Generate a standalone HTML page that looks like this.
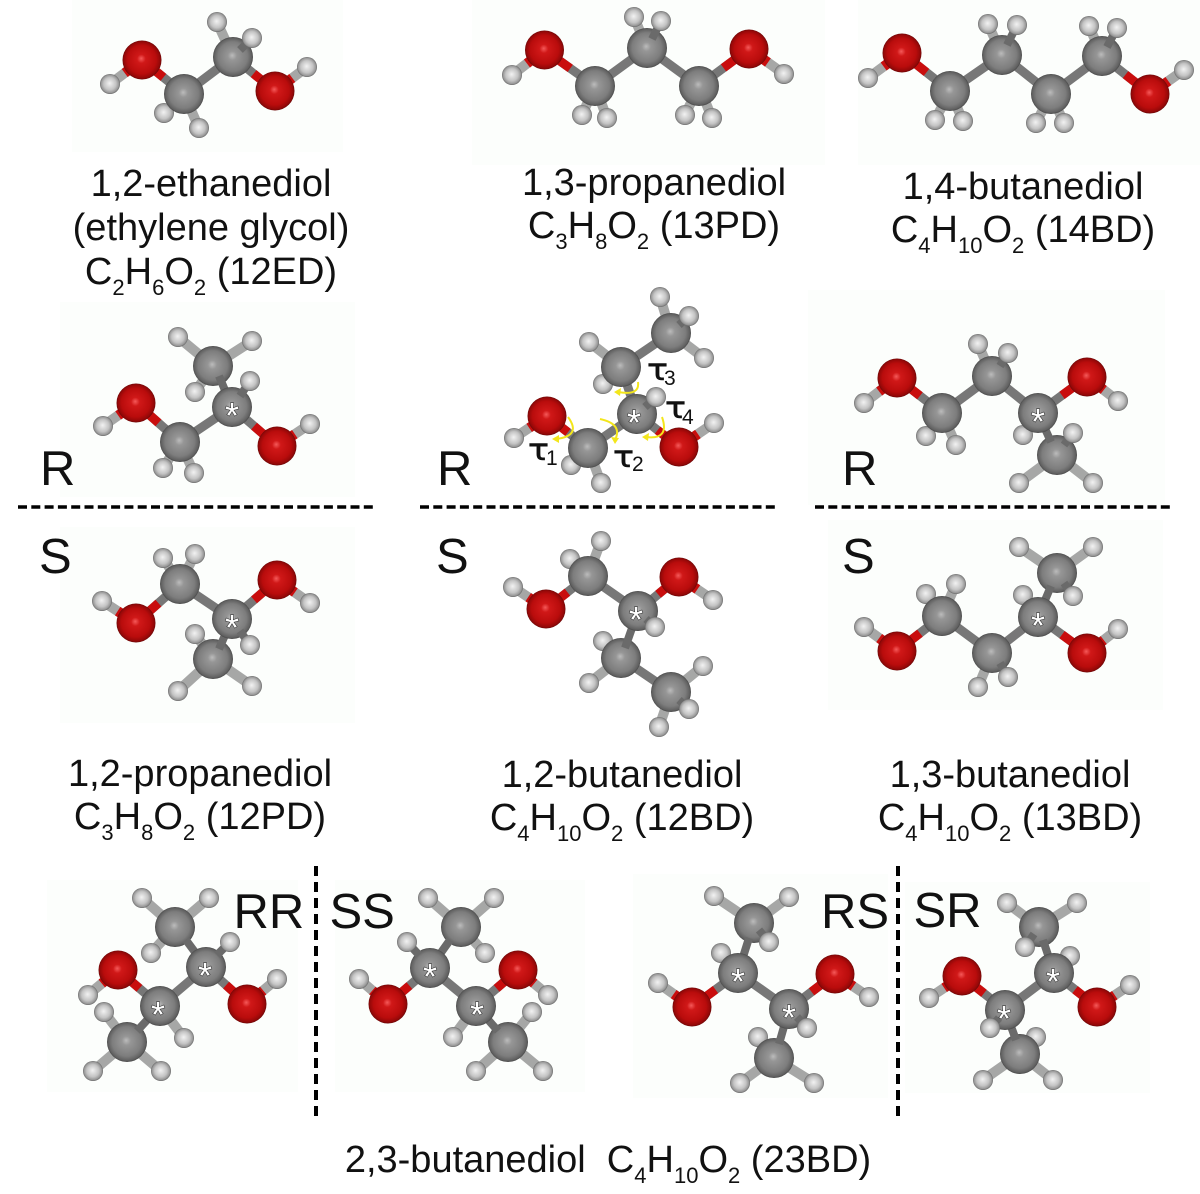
<!DOCTYPE html>
<html><head><meta charset="utf-8"><title>Diols</title>
<style>
html,body{margin:0;padding:0;background:#fff}
svg{display:block}
text{font-family:"Liberation Sans",sans-serif;fill:#111}
.t{font-size:38px;text-anchor:middle}
.l{font-size:49px}
.sb{font-size:22px}
.ch,.cc,.f,.r,.s{fill:none}
.ch{stroke:#a6a7a6;stroke-width:10}
.cc{stroke:#777;stroke-width:9}
.f{stroke:#6a6a6a;stroke-width:8}
.r{stroke:#c90d0d;stroke-width:9;stroke-dasharray:1.02 1}
.s{stroke:#c90d0d;stroke-width:10;stroke-dasharray:1.08 1}
.a{font-size:36px;text-anchor:middle;fill:#fff;stroke:#333;stroke-width:1.2;paint-order:stroke;transform:translateY(4px)}
.y{fill:none;stroke:#f3e61c;stroke-width:2}
.tau{font-family:"DejaVu Sans",sans-serif;font-size:30px;stroke:#111;stroke-width:.5}
.dg{font-size:21px}
.p{fill:#fcfefc}
</style></head><body>
<svg width="1200" height="1194" viewBox="0 0 1200 1194" xmlns="http://www.w3.org/2000/svg">
<defs>
<radialGradient id="gc" cx="50%" cy="50%" r="51%" fx="48%" fy="46%"><stop offset="0" stop-color="#bcbcbc"/><stop offset=".22" stop-color="#969696"/><stop offset=".72" stop-color="#7d7d7d"/><stop offset=".92" stop-color="#606060"/><stop offset="1" stop-color="#404040"/></radialGradient>
<radialGradient id="go" cx="50%" cy="50%" r="51%" fx="48%" fy="46%"><stop offset="0" stop-color="#f55a5a"/><stop offset=".22" stop-color="#d01818"/><stop offset=".72" stop-color="#b90c0c"/><stop offset=".92" stop-color="#920808"/><stop offset="1" stop-color="#5a0606"/></radialGradient>
<radialGradient id="gh" cx="50%" cy="50%" r="51%" fx="48%" fy="46%"><stop offset="0" stop-color="#f2f2f2"/><stop offset=".6" stop-color="#c4c4c4"/><stop offset=".88" stop-color="#969696"/><stop offset="1" stop-color="#5c5c5c"/></radialGradient>
<circle id="C" r="20" fill="url(#gc)"/>
<circle id="O" r="19.500" fill="url(#go)"/>
<circle id="H" r="10" fill="url(#gh)"/>
</defs>

<!-- faint panels -->
<rect class="p" x="72" y="0" width="271" height="152"/>
<rect class="p" x="472" y="0" width="353" height="165"/>
<rect class="p" x="858" y="0" width="342" height="165"/>
<rect class="p" x="60" y="302" width="295" height="195"/>
<rect class="p" x="60" y="527" width="295" height="196"/>
<rect class="p" x="808" y="290" width="357" height="215"/>
<rect class="p" x="828" y="520" width="335" height="190"/>
<rect class="p" x="47" y="880" width="251" height="212"/>
<rect class="p" x="335" y="880" width="250" height="212"/>
<rect class="p" x="633" y="874" width="255" height="224"/>
<rect class="p" x="905" y="882" width="245" height="211"/>

<!-- 12ED -->
<path class="ch" d="M184 94L164 113M184 94L199 128M233 57L217 22M142 60L110 84M275 91L307 67"/>
<path class="cc" d="M184 94L233 57M184 94L142 60M233 57L275 91"/>
<path class="r" pathLength="2" d="M142 60L184 94"/><path class="r" pathLength="2" d="M275 91L233 57"/>
<path class="s" pathLength="2" d="M142 60L110 84"/><path class="s" pathLength="2" d="M275 91L307 67"/>
<use href="#H" x="110" y="84"/><use href="#H" x="164" y="113"/><use href="#H" x="199" y="128"/><use href="#H" x="217" y="22"/><use href="#H" x="307" y="67"/>
<use href="#O" x="142" y="60"/><use href="#O" x="275" y="91"/><use href="#C" x="184" y="94"/><use href="#C" x="233" y="57"/>
<path class="f" d="M240 50L252 38"/><use href="#H" x="252" y="38"/>

<!-- 13PD -->
<path class="ch" d="M595 86L582 115M595 86L607 118M647 48L634 17M699 86L685 115M699 86L712 118M544.500 50L512 75M749 49L784 74"/>
<path class="cc" d="M595 86L647 48L699 86M544.500 50L595 86M749 49L699 86"/>
<path class="r" pathLength="2" d="M544.500 50L595 86"/><path class="r" pathLength="2" d="M749 49L699 86"/>
<path class="s" pathLength="2" d="M544.500 50L512 75"/><path class="s" pathLength="2" d="M749 49L784 74"/>
<use href="#H" x="512" y="75"/><use href="#H" x="582" y="115"/><use href="#H" x="607" y="118"/><use href="#H" x="634" y="17"/><use href="#H" x="685" y="115"/><use href="#H" x="712" y="118"/><use href="#H" x="784" y="74"/>
<use href="#O" x="544.500" y="50"/><use href="#O" x="749" y="49"/><use href="#C" x="595" y="86"/><use href="#C" x="647" y="48"/><use href="#C" x="699" y="86"/>
<path class="f" d="M652 39L661 21"/><use href="#H" x="661" y="21"/>

<!-- 14BD -->
<path class="ch" d="M950 91L935 120M950 91L963 121M1002 55L988 24M1051 94L1036 123M1051 94L1064 123M1102 56L1089 26M902 53L868 78M1150 94L1184 70"/>
<path class="cc" d="M950 91L1002 55L1051 94L1102 56M902 53L950 91M1150 94L1102 56"/>
<path class="r" pathLength="2" d="M902 53L950 91"/><path class="r" pathLength="2" d="M1150 94L1102 56"/>
<path class="s" pathLength="2" d="M902 53L868 78"/><path class="s" pathLength="2" d="M1150 94L1184 70"/>
<use href="#H" x="868" y="78"/><use href="#H" x="935" y="120"/><use href="#H" x="963" y="121"/><use href="#H" x="988" y="24"/><use href="#H" x="1036" y="123"/><use href="#H" x="1064" y="123"/><use href="#H" x="1089" y="26"/><use href="#H" x="1184" y="70"/>
<use href="#O" x="902" y="53"/><use href="#O" x="1150" y="94"/><use href="#C" x="950" y="91"/><use href="#C" x="1002" y="55"/><use href="#C" x="1051" y="94"/><use href="#C" x="1102" y="56"/>
<path class="f" d="M1007 45L1017 25M1107 47L1117 28"/><use href="#H" x="1017" y="25"/><use href="#H" x="1117" y="28"/>

<!-- 12PD R -->
<path class="ch" d="M180 442L163 468M180 442L194 473M213 366L178 337M213 366L252 341M213 366L195 392M136 403L103 426M277 446L310 424"/>
<path class="cc" d="M180 442L232 407M136 403L180 442M277 446L232 407"/>
<path class="r" pathLength="2" d="M136 403L180 442"/><path class="r" pathLength="2" d="M277 446L232 407"/>
<path class="s" pathLength="2" d="M136 403L103 426"/><path class="s" pathLength="2" d="M277 446L310 424"/>
<use href="#H" x="103" y="426"/><use href="#H" x="163" y="468"/><use href="#H" x="194" y="473"/><use href="#H" x="178" y="337"/><use href="#H" x="252" y="341"/><use href="#H" x="195" y="392"/><use href="#H" x="310" y="424"/>
<use href="#O" x="136" y="403"/><use href="#O" x="277" y="446"/><use href="#C" x="180" y="442"/><use href="#C" x="213" y="366"/>
<path class="f" d="M219 376L232 407"/><use href="#C" x="232" y="407"/>
<path class="f" d="M240 396L250 381"/><use href="#H" x="250" y="381"/>
<text class="a" x="232" y="424">*</text>

<!-- 12PD S -->
<path class="ch" d="M180 584L163 558M180 584L195 554M213 659L195 634M213 659L178 691M213 659L252 686M136 623L102 601M277 580L310 603"/>
<path class="cc" d="M180 584L232 619M136 623L180 584M277 580L232 619"/>
<path class="r" pathLength="2" d="M136 623L180 584"/><path class="r" pathLength="2" d="M277 580L232 619"/>
<path class="s" pathLength="2" d="M136 623L102 601"/><path class="s" pathLength="2" d="M277 580L310 603"/>
<use href="#H" x="102" y="601"/><use href="#H" x="163" y="558"/><use href="#H" x="195" y="554"/><use href="#H" x="195" y="634"/><use href="#H" x="178" y="691"/><use href="#H" x="252" y="686"/><use href="#H" x="310" y="603"/>
<use href="#O" x="136" y="623"/><use href="#O" x="277" y="580"/><use href="#C" x="180" y="584"/><use href="#C" x="213" y="659"/>
<path class="f" d="M219 649L232 619"/><use href="#C" x="232" y="619"/>
<path class="f" d="M240 631L250 645"/><use href="#H" x="250" y="645"/>
<text class="a" x="232" y="636">*</text>

<!-- 12BD R -->
<path class="ch" d="M588 448L571 465M588 448L601 483M621 367L589 342M621 367L603 384M671 333L660 297M671 333L704 358M547 416L514 438M679 447L714 423"/>
<path class="cc" d="M588 448L637 414L621 367L671 333M547 416L588 448M679 447L637 414"/>
<path class="r" pathLength="2" d="M547 416L588 448"/><path class="r" pathLength="2" d="M679 447L637 414"/>
<path class="s" pathLength="2" d="M547 416L514 438"/><path class="s" pathLength="2" d="M679 447L714 423"/>
<use href="#H" x="514" y="438"/><use href="#H" x="571" y="465"/><use href="#H" x="601" y="483"/><use href="#H" x="589" y="342"/><use href="#H" x="603" y="384"/><use href="#H" x="660" y="297"/><use href="#H" x="704" y="358"/><use href="#H" x="714" y="423"/>
<use href="#O" x="547" y="416"/><use href="#O" x="679" y="447"/><use href="#C" x="588" y="448"/><use href="#C" x="621" y="367"/><use href="#C" x="637" y="414"/><use href="#C" x="671" y="333"/>
<path class="f" d="M645 407L656 397M679 325L689 316"/><use href="#H" x="656" y="397"/><use href="#H" x="689" y="316"/>
<text class="a" x="634" y="431">*</text>
<!-- torsion arrows -->
<path class="y" d="M568 417Q582 436 556 439"/><path d="M552 439L559 435L559 443Z" fill="#f3e61c"/>
<path class="y" d="M600 419Q623 424 615 440"/><path d="M615 444L611 437L619 438Z" fill="#f3e61c"/>
<path class="y" d="M638 382Q640 396 618 392"/><path d="M614 392L621 388L620 396Z" fill="#f3e61c"/>
<path class="y" d="M662 417Q670 440 646 437"/><path d="M642 437L649 433L648 441Z" fill="#f3e61c"/>
<text class="tau" x="528" y="460" textLength="21" lengthAdjust="spacingAndGlyphs">τ</text><text class="dg" x="546" y="465">1</text>
<text class="tau" x="613" y="467" textLength="21" lengthAdjust="spacingAndGlyphs">τ</text><text class="dg" x="632" y="471">2</text>
<text class="tau" x="647" y="380" textLength="21" lengthAdjust="spacingAndGlyphs">τ</text><text class="dg" x="664" y="385">3</text>
<text class="tau" x="665" y="418" textLength="21" lengthAdjust="spacingAndGlyphs">τ</text><text class="dg" x="682" y="424">4</text>

<!-- 12BD S -->
<path class="ch" d="M588 576L570 559M588 576L601 541M621 658L603 641M621 658L589 683M671 692L703 666M671 692L659 727M546 609L513 587M679 577L713 600"/>
<path class="cc" d="M588 576L638 611M621 658L671 692M546 609L588 576M679 577L638 611"/>
<path class="r" pathLength="2" d="M546 609L588 576"/><path class="r" pathLength="2" d="M679 577L638 611"/>
<path class="s" pathLength="2" d="M546 609L513 587"/><path class="s" pathLength="2" d="M679 577L713 600"/>
<use href="#H" x="513" y="587"/><use href="#H" x="570" y="559"/><use href="#H" x="601" y="541"/><use href="#H" x="603" y="641"/><use href="#H" x="589" y="683"/><use href="#H" x="703" y="666"/><use href="#H" x="659" y="727"/><use href="#H" x="713" y="600"/>
<use href="#O" x="546" y="609"/><use href="#O" x="679" y="577"/><use href="#C" x="588" y="576"/><use href="#C" x="621" y="658"/><use href="#C" x="671" y="692"/>
<path class="f" d="M625 648L638 611"/><use href="#C" x="638" y="611"/>
<path class="f" d="M646 619L655 627M679 700L689 709"/><use href="#H" x="655" y="627"/><use href="#H" x="689" y="709"/>
<text class="a" x="636" y="628">*</text>

<!-- 13BD R -->
<path class="ch" d="M942 413L926 436M942 413L956 445M992 376L978 344M1038 413L1023 435M1057 455L1019 483M1057 455L1093 483M897 378L864 403M1087 377L1118 401"/>
<path class="cc" d="M942 413L992 376L1038 413M897 378L942 413M1087 377L1038 413"/>
<path class="r" pathLength="2" d="M897 378L942 413"/><path class="r" pathLength="2" d="M1087 377L1038 413"/>
<path class="s" pathLength="2" d="M897 378L864 403"/><path class="s" pathLength="2" d="M1087 377L1118 401"/>
<use href="#H" x="864" y="403"/><use href="#H" x="926" y="436"/><use href="#H" x="956" y="445"/><use href="#H" x="978" y="344"/><use href="#H" x="1023" y="435"/><use href="#H" x="1019" y="483"/><use href="#H" x="1093" y="483"/><use href="#H" x="1118" y="401"/>
<use href="#O" x="897" y="378"/><use href="#O" x="1087" y="377"/><use href="#C" x="942" y="413"/><use href="#C" x="992" y="376"/><use href="#C" x="1057" y="455"/>
<path class="f" d="M1051 442L1038 413"/><use href="#C" x="1038" y="413"/>
<path class="f" d="M1000 366L1008 353M1064 445L1073 433"/><use href="#H" x="1008" y="353"/><use href="#H" x="1073" y="433"/>
<text class="a" x="1038" y="430">*</text>

<!-- 13BD S -->
<path class="ch" d="M942 616L926 594M942 616L956 584M992 653L978 687M1038 617L1023 595M1057 573L1019 547M1057 573L1093 547M897 651L864 627M1087 653L1118 629"/>
<path class="cc" d="M942 616L992 653L1038 617M897 651L942 616M1087 653L1038 617"/>
<path class="r" pathLength="2" d="M897 651L942 616"/><path class="r" pathLength="2" d="M1087 653L1038 617"/>
<path class="s" pathLength="2" d="M897 651L864 627"/><path class="s" pathLength="2" d="M1087 653L1118 629"/>
<use href="#H" x="864" y="627"/><use href="#H" x="926" y="594"/><use href="#H" x="956" y="584"/><use href="#H" x="978" y="687"/><use href="#H" x="1023" y="595"/><use href="#H" x="1019" y="547"/><use href="#H" x="1093" y="547"/><use href="#H" x="1118" y="629"/>
<use href="#O" x="897" y="651"/><use href="#O" x="1087" y="653"/><use href="#C" x="942" y="616"/><use href="#C" x="992" y="653"/><use href="#C" x="1057" y="573"/>
<path class="f" d="M1051 586L1038 617"/><use href="#C" x="1038" y="617"/>
<path class="f" d="M1000 663L1008 677M1064 583L1073 596"/><use href="#H" x="1008" y="677"/><use href="#H" x="1073" y="596"/>
<text class="a" x="1038" y="634">*</text>

<!-- RR -->
<path class="ch" d="M160 1006L184 1038M127 1042L104 1012M127 1042L93 1071M127 1042L161 1071M175 927L142 898M175 927L209 898M175 927L151 953M118 970L88 995M247 1004L277 979"/>
<path class="cc" d="M160 1006L206 967M118 970L160 1006M247 1004L206 967"/>
<path class="r" pathLength="2" d="M118 970L160 1006"/><path class="r" pathLength="2" d="M247 1004L206 967"/>
<path class="s" pathLength="2" d="M118 970L88 995"/><path class="s" pathLength="2" d="M247 1004L277 979"/>
<use href="#H" x="88" y="995"/><use href="#H" x="184" y="1038"/><use href="#H" x="104" y="1012"/><use href="#H" x="93" y="1071"/><use href="#H" x="161" y="1071"/><use href="#H" x="142" y="898"/><use href="#H" x="209" y="898"/><use href="#H" x="151" y="953"/><use href="#H" x="277" y="979"/>
<use href="#O" x="118" y="970"/><use href="#O" x="247" y="1004"/><use href="#C" x="127" y="1042"/><use href="#C" x="175" y="927"/>
<path class="f" d="M137 1031L160 1006M186 940L206 967"/><use href="#C" x="160" y="1006"/><use href="#C" x="206" y="967"/>
<path class="f" d="M217 955L230 942"/><use href="#H" x="230" y="942"/>
<text class="a" x="158" y="1023">*</text><text class="a" x="205" y="984">*</text>

<!-- SS -->
<path class="ch" d="M476 1006L453 1037M508 1042L532 1012M508 1042L476 1071M508 1042L543 1071M461 927L428 898M461 927L494 898M461 927L485 953M388 1004L359 979M518 970L548 995"/>
<path class="cc" d="M430 968L476 1006M388 1004L430 968M518 970L476 1006"/>
<path class="r" pathLength="2" d="M388 1004L430 968"/><path class="r" pathLength="2" d="M518 970L476 1006"/>
<path class="s" pathLength="2" d="M388 1004L359 979"/><path class="s" pathLength="2" d="M518 970L548 995"/>
<use href="#H" x="359" y="979"/><use href="#H" x="453" y="1037"/><use href="#H" x="532" y="1012"/><use href="#H" x="476" y="1071"/><use href="#H" x="543" y="1071"/><use href="#H" x="428" y="898"/><use href="#H" x="494" y="898"/><use href="#H" x="485" y="953"/><use href="#H" x="548" y="995"/>
<use href="#O" x="388" y="1004"/><use href="#O" x="518" y="970"/><use href="#C" x="508" y="1042"/><use href="#C" x="461" y="927"/>
<path class="f" d="M498 1031L476 1006M450 940L430 968"/><use href="#C" x="476" y="1006"/><use href="#C" x="430" y="968"/>
<path class="f" d="M419 955L407 942"/><use href="#H" x="407" y="942"/>
<text class="a" x="430" y="985">*</text><text class="a" x="477" y="1023">*</text>

<!-- RS -->
<path class="ch" d="M738 973L721 953M754 923L714 896M754 923L789 897M774 1058L758 1037M774 1058L740 1083M774 1058L814 1083M692 1007L658 983M835 974L869 997"/>
<path class="cc" d="M738 973L789 1009M692 1007L738 973M835 974L789 1009"/>
<path class="r" pathLength="2" d="M692 1007L738 973"/><path class="r" pathLength="2" d="M835 974L789 1009"/>
<path class="s" pathLength="2" d="M692 1007L658 983"/><path class="s" pathLength="2" d="M835 974L869 997"/>
<use href="#H" x="658" y="983"/><use href="#H" x="721" y="953"/><use href="#H" x="714" y="896"/><use href="#H" x="789" y="897"/><use href="#H" x="758" y="1037"/><use href="#H" x="740" y="1083"/><use href="#H" x="814" y="1083"/><use href="#H" x="869" y="997"/>
<use href="#O" x="692" y="1007"/><use href="#O" x="835" y="974"/><use href="#C" x="754" y="923"/><use href="#C" x="774" y="1058"/>
<path class="f" d="M749 938L738 973M779 1044L789 1009"/><use href="#C" x="738" y="973"/><use href="#C" x="789" y="1009"/>
<path class="f" d="M759 930L769 942M797 1017L807 1028"/><use href="#H" x="769" y="942"/><use href="#H" x="807" y="1028"/>
<text class="a" x="738" y="990">*</text><text class="a" x="789" y="1026">*</text>

<!-- SR -->
<path class="ch" d="M1054 973L1070 956M1039 927L1007 903M1039 927L1077 903M1020 1054L1036 1037M1020 1054L983 1080M1020 1054L1053 1080M962 976L929 998M1097 1007L1130 985"/>
<path class="cc" d="M1005 1010L1054 973M962 976L1005 1010M1097 1007L1054 973"/>
<path class="r" pathLength="2" d="M962 976L1005 1010"/><path class="r" pathLength="2" d="M1097 1007L1054 973"/>
<path class="s" pathLength="2" d="M962 976L929 998"/><path class="s" pathLength="2" d="M1097 1007L1130 985"/>
<use href="#H" x="929" y="998"/><use href="#H" x="1070" y="956"/><use href="#H" x="1007" y="903"/><use href="#H" x="1077" y="903"/><use href="#H" x="1036" y="1037"/><use href="#H" x="983" y="1080"/><use href="#H" x="1053" y="1080"/><use href="#H" x="1130" y="985"/>
<use href="#O" x="962" y="976"/><use href="#O" x="1097" y="1007"/><use href="#C" x="1039" y="927"/><use href="#C" x="1020" y="1054"/>
<path class="f" d="M1043 940L1054 973M1016 1040L1005 1010"/><use href="#C" x="1054" y="973"/><use href="#C" x="1005" y="1010"/>
<path class="f" d="M1034 934L1025 947M999 1018L990 1028"/><use href="#H" x="1025" y="947"/><use href="#H" x="990" y="1028"/>
<text class="a" x="1004" y="1027">*</text><text class="a" x="1053" y="990">*</text>

<!-- dashes -->
<g fill="none" stroke="#000">
<path stroke-width="3.500" stroke-dasharray="9 4.300" d="M18 507H374M420 507H775M815 507H1171"/>
<path stroke-width="4" stroke-dasharray="10 6" d="M316 866V1116M898 866V1116"/>
</g>

<!-- stereo labels -->
<text class="l" x="40" y="485">R</text><text class="l" x="39" y="573">S</text>
<text class="l" x="437" y="485">R</text><text class="l" x="436" y="573">S</text>
<text class="l" x="842" y="485">R</text><text class="l" x="842" y="573">S</text>
<text class="l" x="233.500" y="928">RR</text><text class="l" x="329.500" y="928">SS</text>
<text class="l" x="821" y="928">RS</text><text class="l" x="913.500" y="927">SR</text>

<!-- names -->
<text class="t" x="211" y="196">1,2-ethanediol</text>
<text class="t" x="211" y="240">(ethylene glycol)</text>
<text class="t" x="211" y="284">C<tspan class="sb" dy="11">2</tspan><tspan dy="-11">H</tspan><tspan class="sb" dy="11">6</tspan><tspan dy="-11">O</tspan><tspan class="sb" dy="11">2</tspan><tspan dy="-11"> (12ED)</tspan></text>
<text class="t" x="654" y="195">1,3-propanediol</text>
<text class="t" x="654" y="238">C<tspan class="sb" dy="11">3</tspan><tspan dy="-11">H</tspan><tspan class="sb" dy="11">8</tspan><tspan dy="-11">O</tspan><tspan class="sb" dy="11">2</tspan><tspan dy="-11"> (13PD)</tspan></text>
<text class="t" x="1023" y="199">1,4-butanediol</text>
<text class="t" x="1023" y="242">C<tspan class="sb" dy="11">4</tspan><tspan dy="-11">H</tspan><tspan class="sb" dy="11">10</tspan><tspan dy="-11">O</tspan><tspan class="sb" dy="11">2</tspan><tspan dy="-11"> (14BD)</tspan></text>
<text class="t" x="200" y="786">1,2-propanediol</text>
<text class="t" x="200" y="829">C<tspan class="sb" dy="11">3</tspan><tspan dy="-11">H</tspan><tspan class="sb" dy="11">8</tspan><tspan dy="-11">O</tspan><tspan class="sb" dy="11">2</tspan><tspan dy="-11"> (12PD)</tspan></text>
<text class="t" x="622" y="787">1,2-butanediol</text>
<text class="t" x="622" y="830">C<tspan class="sb" dy="11">4</tspan><tspan dy="-11">H</tspan><tspan class="sb" dy="11">10</tspan><tspan dy="-11">O</tspan><tspan class="sb" dy="11">2</tspan><tspan dy="-11"> (12BD)</tspan></text>
<text class="t" x="1010" y="787">1,3-butanediol</text>
<text class="t" x="1010" y="830">C<tspan class="sb" dy="11">4</tspan><tspan dy="-11">H</tspan><tspan class="sb" dy="11">10</tspan><tspan dy="-11">O</tspan><tspan class="sb" dy="11">2</tspan><tspan dy="-11"> (13BD)</tspan></text>
<text class="t" x="608" y="1172" xml:space="preserve">2,3-butanediol  C<tspan class="sb" dy="11">4</tspan><tspan dy="-11">H</tspan><tspan class="sb" dy="11">10</tspan><tspan dy="-11">O</tspan><tspan class="sb" dy="11">2</tspan><tspan dy="-11"> (23BD)</tspan></text>
</svg>
</body></html>
